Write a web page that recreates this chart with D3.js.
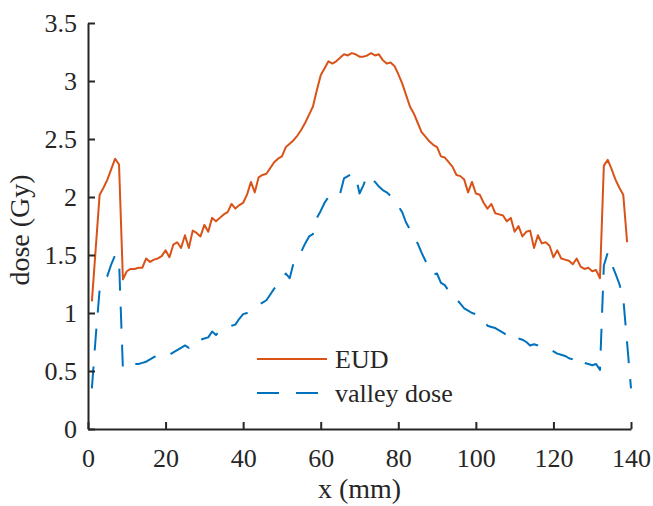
<!DOCTYPE html>
<html>
<head>
<meta charset="utf-8">
<script src="https://cdn.jsdelivr.net/npm/d3@7"></script>
<style>
  body { margin: 0; background: #fff; }
  text { font-family: "Liberation Serif", "Times New Roman", serif; fill: #262626; }
</style>
</head>
<body>
<div id="chart"></div>
<script>
// EUD at x = 1..139 mm
let eud = [1.10,1.56,2.02,2.08,2.15,2.24,2.33,2.28,1.29,1.36,
  1.38,1.38,1.39,1.39,1.47,1.44,1.46,1.47,1.49,1.54,
  1.48,1.59,1.61,1.56,1.67,1.56,1.71,1.69,1.66,1.76,
  1.70,1.82,1.79,1.82,1.85,1.87,1.94,1.90,1.93,1.95,
  2.02,2.13,2.04,2.17,2.19,2.20,2.25,2.30,2.33,2.35,
  2.43,2.46,2.49,2.53,2.58,2.64,2.71,2.78,2.92,3.05,
  3.11,3.17,3.15,3.17,3.20,3.23,3.22,3.24,3.23,3.21,
  3.21,3.22,3.24,3.22,3.23,3.18,3.15,3.16,3.13,3.06,
  2.98,2.88,2.78,2.72,2.64,2.56,2.52,2.48,2.45,2.43,
  2.35,2.34,2.30,2.26,2.19,2.18,2.15,2.04,2.13,2.03,
  2.02,1.95,1.90,1.94,1.86,1.85,1.84,1.79,1.82,1.70,
  1.75,1.66,1.70,1.71,1.56,1.67,1.60,1.61,1.58,1.48,
  1.54,1.47,1.46,1.45,1.42,1.47,1.40,1.38,1.39,1.36,
  1.37,1.30,2.27,2.32,2.24,2.15,2.08,2.02,1.61];

// valley dose at x = 1..140 mm
let valley = [0.35,0.80,1.20,1.27,1.32,1.42,1.50,1.45,0.52,0.55,
  0.56,0.56,0.56,0.57,0.58,0.60,0.62,0.63,0.65,0.65,
  0.64,0.66,0.68,0.70,0.72,0.70,0.76,0.76,0.77,0.78,
  0.79,0.84,0.81,0.85,0.86,0.87,0.89,0.90,0.95,0.99,
  1.00,1.02,1.04,1.07,1.09,1.11,1.16,1.21,1.25,1.29,
  1.34,1.30,1.43,1.47,1.53,1.60,1.66,1.68,1.82,1.88,
  1.95,2.00,2.04,2.04,2.03,2.16,2.18,2.20,2.19,2.03,
  2.10,2.19,2.16,2.13,2.09,2.06,2.04,2.01,1.97,1.92,
  1.87,1.78,1.72,1.65,1.60,1.52,1.45,1.38,1.33,1.34,
  1.26,1.24,1.19,1.15,1.12,1.08,1.04,1.02,1.00,0.99,
  0.98,0.94,0.89,0.88,0.87,0.85,0.83,0.81,0.83,0.79,
  0.78,0.77,0.75,0.72,0.73,0.72,0.70,0.70,0.69,0.67,
  0.65,0.64,0.63,0.61,0.60,0.63,0.60,0.57,0.56,0.55,
  0.56,0.51,1.41,1.52,1.42,1.34,1.25,1.13,0.74,0.35];

let xTicks = [0, 20, 40, 60, 80, 100, 120, 140];
let yTicks = [0, 0.5, 1, 1.5, 2, 2.5, 3, 3.5];
let seriesNames = ["EUD", "valley dose"];
let seriesColors = ["#D95319", "#0072BD"];

let width = 653, height = 506;
let margin = {left: 88, right: 22, top: 23, bottom: 77};

let svg = d3.select("#chart")
.append("svg")
.attr("width", width)
.attr("height", height);

let x = d3.scaleLinear().domain([0, 140]).range([margin.left, width - margin.right]);
let y = d3.scaleLinear().domain([0, 3.5]).range([height - margin.bottom, margin.top]);

let line = d3.line()
.x(function(d, i) { return x(i + 1); })
.y(function(d) { return y(d); });

svg.append("path")
.datum(eud)
.attr("fill", "none")
.attr("stroke", seriesColors[0])
.attr("stroke-width", 2)
.attr("stroke-linejoin", "round")
.attr("d", line);

svg.append("path")
.datum(valley)
.attr("fill", "none")
.attr("stroke", seriesColors[1])
.attr("stroke-width", 2)
.attr("stroke-dasharray", "22,16")
.attr("stroke-linejoin", "round")
.attr("d", line);

// axes, ticks pointing inward like matlab
let xAxis = svg.append("g")
.attr("transform", "translate(0," + y(0) + ")")
.call(d3.axisBottom(x).tickValues(xTicks).tickSizeInner(-7).tickSizeOuter(0).tickPadding(20).tickFormat(d3.format("d")));

let yAxis = svg.append("g")
.attr("transform", "translate(" + x(0) + ",0)")
.call(d3.axisLeft(y).tickValues(yTicks).tickSizeInner(-7).tickSizeOuter(0).tickPadding(11).tickFormat(function(d) { return d; }));

[xAxis, yAxis].forEach(function(a) {
  a.select(".domain").attr("stroke", "#262626").attr("stroke-width", 2);
  a.selectAll(".tick line").attr("stroke", "#262626").attr("stroke-width", 2);
  a.selectAll(".tick text")
  .attr("fill", "#262626")
  .style("font-family", "'Liberation Serif', serif")
  .style("font-size", "26px");
});

svg.append("text")
.attr("x", (x(0) + x(140)) / 2)
.attr("y", 498)
.attr("text-anchor", "middle")
.style("font-size", "28px")
.text("x (mm)");

svg.append("text")
.attr("transform", "translate(29," + ((y(0) + y(3.5)) / 2 + 4) + ") rotate(-90)")
.attr("text-anchor", "middle")
.style("font-size", "28px")
.text("dose (Gy)");

// legend (no box)
let legend = svg.append("g");
seriesNames.forEach(function(name, i) {
  let ly = 359 + i * 34;
  legend.append("line")
  .attr("x1", 257).attr("x2", 327)
  .attr("y1", ly).attr("y2", ly)
  .attr("stroke", seriesColors[i])
  .attr("stroke-width", 2)
  .attr("stroke-dasharray", i === 1 ? "22,17" : null);
  legend.append("text")
  .attr("x", 335)
  .attr("y", ly + 9)
  .style("font-size", "26px")
  .text(name);
});
</script>
</body>
</html>
